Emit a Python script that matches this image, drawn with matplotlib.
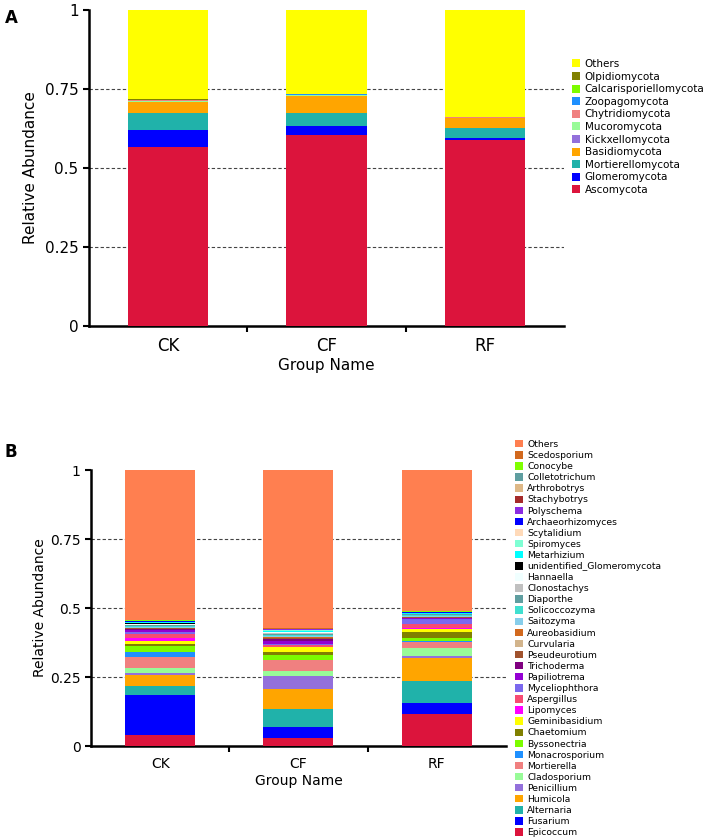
import matplotlib
matplotlib.use('Agg')
import matplotlib.pyplot as plt
import numpy as np

groups = ['CK', 'CF', 'RF']

# panel A: phylum level, bottom -> top
phyla = ['Ascomycota', 'Glomeromycota', 'Mortierellomycota', 'Basidiomycota',
         'Kickxellomycota', 'Mucoromycota', 'Chytridiomycota', 'Zoopagomycota',
         'Calcarisporiellomycota', 'Olpidiomycota', 'Others']
phyla_colors = ['#DC143C', '#0000FF', '#20B2AA', '#FFA500', '#9370DB', '#98FB98',
                '#F08080', '#1E90FF', '#7CFC00', '#808000', '#FFFF00']
ck_a = [0.567, 0.052, 0.054, 0.035, 0.002, 0.002, 0.003, 0.001, 0.0005, 0.0005, 0.283]
cf_a = [0.605, 0.027, 0.042, 0.053, 0.002, 0.002, 0.001, 0.001, 0.0005, 0.0005, 0.266]
rf_a = [0.589, 0.005, 0.034, 0.029, 0.001, 0.001, 0.001, 0.0005, 0.0003, 0.0002, 0.339]

# panel B: genus level, bottom -> top
genera = ['Epicoccum', 'Fusarium', 'Alternaria', 'Humicola', 'Penicillium',
          'Cladosporium', 'Mortierella', 'Monacrosporium', 'Byssonectria',
          'Chaetomium', 'Geminibasidium', 'Lipomyces', 'Aspergillus',
          'Myceliophthora', 'Papiliotrema', 'Trichoderma', 'Pseudeurotium',
          'Curvularia', 'Aureobasidium', 'Saitozyma', 'Solicoccozyma',
          'Diaporthe', 'Clonostachys', 'Hannaella', 'unidentified_Glomeromycota',
          'Metarhizium', 'Spiromyces', 'Scytalidium', 'Archaeorhizomyces',
          'Polyschema', 'Stachybotrys', 'Arthrobotrys', 'Colletotrichum',
          'Conocybe', 'Scedosporium', 'Others']
genera_colors = ['#DC143C', '#0000FF', '#20B2AA', '#FFA500', '#9370DB',
                 '#98FB98', '#F08080', '#1E90FF', '#7CFC00',
                 '#808000', '#FFFF00', '#FF00FF', '#F74B73',
                 '#7B68EE', '#9400D3', '#800080', '#A0522D',
                 '#D2B48C', '#D2691E', '#87CEEB', '#40E0D0',
                 '#5F9EA0', '#C0C0C0', '#F0FFFF', '#000000',
                 '#00FFFF', '#7FFFD4', '#FFDAB9', '#0000FF',
                 '#8A2BE2', '#A52A2A', '#DEB887', '#5F9EA0',
                 '#7FFF00', '#D2691E', '#FF7F50']
ck_b = [0.040, 0.145, 0.033, 0.040, 0.008, 0.016, 0.040, 0.020, 0.021, 0.007,
        0.010, 0.012, 0.014, 0.007, 0.007, 0.004, 0.002, 0.002, 0.001, 0.003,
        0.004, 0.002, 0.002, 0.002, 0.003, 0.003, 0.002, 0.001, 0.001, 0.001,
        0.0005, 0.0005, 0.0005, 0.0005, 0.0005, 0.545]
cf_b = [0.029, 0.041, 0.063, 0.075, 0.045, 0.019, 0.039, 0.001, 0.018, 0.010,
        0.019, 0.001, 0.007, 0.002, 0.010, 0.008, 0.004, 0.002, 0.002, 0.004,
        0.005, 0.003, 0.002, 0.003, 0.002, 0.003, 0.002, 0.001, 0.002, 0.001,
        0.001, 0.0005, 0.0005, 0.0005, 0.001, 0.573]
rf_b = [0.115, 0.041, 0.080, 0.084, 0.006, 0.030, 0.022, 0.001, 0.014, 0.020,
        0.012, 0.001, 0.017, 0.018, 0.002, 0.002, 0.001, 0.002, 0.001, 0.003,
        0.004, 0.001, 0.001, 0.001, 0.0005, 0.002, 0.001, 0.001, 0.001, 0.001,
        0.0005, 0.0005, 0.0005, 0.0005, 0.0005, 0.512]


def stacked(ax, names, colors, data, tick_fs, lab_fs, xlab_fs, ypad):
    x = np.arange(len(groups))
    vals = np.array(data).T  # taxa x groups
    bottom = np.zeros(len(groups))
    handles = []
    for name, col, v in zip(names, colors, vals):
        h = ax.bar(x, v, width=0.506, bottom=bottom, color=col, label=name,
                   linewidth=0, zorder=3)
        handles.append(h)
        bottom += v
    for yv in [0.25, 0.5, 0.75]:
        ax.axhline(yv, color='#444444', linestyle=(0, (3, 2)), linewidth=0.8, zorder=1)
    ax.set_xlim(-0.5, 2.5)
    ax.set_ylim(0, 1)
    ax.set_yticks([0, 0.25, 0.5, 0.75, 1])
    ax.set_yticklabels(['0', '0.25', '0.5', '0.75', '1'], fontsize=tick_fs)
    ax.set_xticks(x)
    ax.set_xticklabels(groups, fontsize=xlab_fs)
    ax.set_xticks([0.5, 1.5], minor=True)
    ax.tick_params(axis='x', which='major', length=0, pad=8)
    ax.tick_params(axis='x', which='minor', length=4, width=1.5)
    ax.tick_params(axis='y', length=4, width=1.5)
    for s in ['top', 'right']:
        ax.spines[s].set_visible(False)
    for s in ['left', 'bottom']:
        ax.spines[s].set_linewidth(1.8)
    ax.set_ylabel('Relative Abundance', fontsize=lab_fs, labelpad=ypad)
    ax.set_xlabel('Group Name', fontsize=lab_fs, labelpad=2)
    return handles


fig = plt.figure(figsize=(7.08, 8.39), dpi=100)

ax1 = fig.add_axes([0.1257, 0.6114, 0.6709, 0.3766])
h1 = stacked(ax1, phyla, phyla_colors, [ck_a, cf_a, rf_a], 11, 11, 12, 5)
fig.legend(h1[::-1], phyla[::-1], loc='upper left', bbox_to_anchor=(572 / 708, 1 - 59 / 839),
           frameon=False, fontsize=7.5, handlelength=0.8, handleheight=0.8,
           handletextpad=0.4, labelspacing=0.25, borderpad=0, borderaxespad=0)

ax2 = fig.add_axes([0.1285, 0.1108, 0.5862, 0.3290])
h2 = stacked(ax2, genera, genera_colors, [ck_b, cf_b, rf_b], 10, 10, 10, 2)
fig.legend(h2[::-1], genera[::-1], loc='upper left', bbox_to_anchor=(515 / 708, 1 - 440 / 839),
           frameon=False, fontsize=6.7, handlelength=0.85, handleheight=0.85,
           handletextpad=0.45, labelspacing=0.225, borderpad=0, borderaxespad=0)

fig.text(5 / 708, 1 - 18 / 839, 'A', fontsize=12, fontweight='bold', va='center')
fig.text(5 / 708, 1 - 452 / 839, 'B', fontsize=12, fontweight='bold', va='center')

fig.savefig('out.png', dpi=100)
